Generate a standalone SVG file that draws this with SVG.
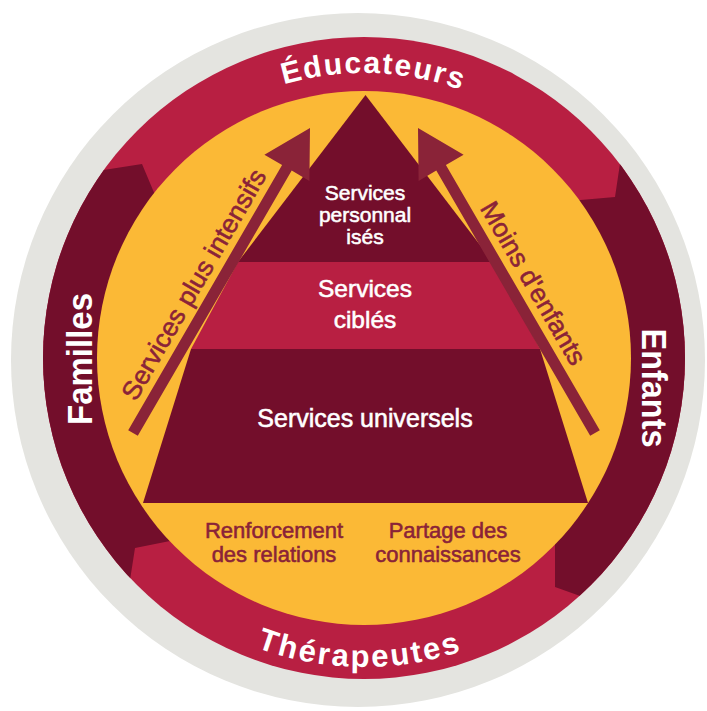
<svg xmlns="http://www.w3.org/2000/svg" width="707" height="711" viewBox="0 0 707 711">
  <style>
    .crimson { fill: #B81F42; }
    .dark { fill: #730E2B; }
    .gold { fill: #FBB936; }
    .arrow { fill: #8A2338; }
    .ring-label { font-family: "Liberation Sans", Arial, sans-serif; font-weight: bold; fill: #FFFFFF; }
    .tier { font-family: "Liberation Sans", Arial, sans-serif; fill: #FFFFFF; stroke: #FFFFFF; stroke-width: 0.55; text-anchor: middle; }
    .note { font-family: "Liberation Sans", Arial, sans-serif; fill: #8A2338; stroke: #8A2338; stroke-width: 0.55; }
  </style>
  <defs>
    <clipPath id="ringClip">
      <circle cx="364" cy="358" r="321"/>
    </clipPath>
    <path id="topArc" d="M145.7,174.8 A285,285 0 0 1 582.3,174.8"/>
    <path id="bottomArc" d="M127.3,556.6 A309,309 0 0 0 600.7,556.6"/>
  </defs>

  <!-- outer grey rim -->
  <circle id="rim" cx="358" cy="360" r="347" fill="#E4E4E0"/>

  <!-- cycle ring: four block-arrow segments -->
  <g id="cycle-ring">
    <circle class="crimson" cx="364" cy="358" r="321"/>
    <g clip-path="url(#ringClip)">
      <polygon id="segment-enfants" class="dark" points="575,200.5 615,197 625,130 720,130 720,640 620,610 583,597 555,587 555,535 450,360"/>
      <polygon id="segment-familles" class="dark" points="158,202 142,164 40,180 -10,180 -10,640 125,640 125,612 130,580 135,548 175,540 280,360"/>
    </g>
  </g>

  <!-- inner field -->
  <circle id="field" class="gold" cx="364" cy="358" r="267"/>

  <!-- pyramid tiers -->
  <g id="tier-universal">
    <polygon class="dark" points="143,503 588,503 540,349 191,349"/>
    <text class="tier" x="365" y="427" font-size="25">Services universels</text>
  </g>
  <g id="tier-targeted">
    <polygon class="crimson" points="191,349 540,349 493,262 238,262"/>
    <text class="tier" x="365" y="297" font-size="24.5">Services</text>
    <text class="tier" x="365" y="328" font-size="24.5">ciblés</text>
  </g>
  <g id="tier-personal">
    <polygon class="dark" points="238,262 493,262 365.5,95"/>
    <text class="tier" x="365" y="200" font-size="21">Services</text>
    <text class="tier" x="365" y="222" font-size="21">personnal</text>
    <text class="tier" x="365" y="244" font-size="21">isés</text>
  </g>

  <!-- side arrows -->
  <g id="connectors">
    <polygon id="arrow-left" class="arrow" points="310,128 309.4,180.9 291.7,170.6 137.8,435.8 128.2,430.2 282.1,165 264.4,154.8"/>
    <polygon id="arrow-right" class="arrow" points="418,128 418.6,180.9 436.3,170.6 590.2,435.8 599.8,430.2 445.9,165 463.6,154.8"/>
  </g>

  <g id="arrow-labels">
    <text class="note" font-size="26" transform="translate(135.8,402.3) rotate(-59.9)" textLength="262" lengthAdjust="spacingAndGlyphs">Services plus intensifs</text>
    <text class="note" font-size="26" transform="translate(479.5,208) rotate(59.9)" textLength="184" lengthAdjust="spacingAndGlyphs">Moins d'enfants</text>
  </g>

  <g id="base-notes">
    <text class="note" font-size="22" text-anchor="middle" x="274" y="538">Renforcement</text>
    <text class="note" font-size="22" text-anchor="middle" x="274" y="562">des relations</text>
    <text class="note" font-size="22" text-anchor="middle" x="448" y="538">Partage des</text>
    <text class="note" font-size="22" text-anchor="middle" x="448" y="562">connaissances</text>
  </g>

  <!-- ring labels -->
  <g id="label-educateurs">
    <text class="ring-label" font-size="30" letter-spacing="1.8" text-anchor="middle"><textPath href="#topArc" startOffset="258">Éducateurs</textPath></text>
  </g>
  <g id="label-therapeutes">
    <text class="ring-label" font-size="31" letter-spacing="2.4" text-anchor="middle"><textPath href="#bottomArc" startOffset="265">Thérapeutes</textPath></text>
  </g>
  <g id="label-familles">
    <text class="ring-label" font-size="35" text-anchor="middle" transform="translate(92,359) rotate(-90)" textLength="132" lengthAdjust="spacingAndGlyphs">Familles</text>
  </g>
  <g id="label-enfants">
    <text class="ring-label" font-size="35" text-anchor="middle" transform="translate(642,388) rotate(90)" textLength="119" lengthAdjust="spacingAndGlyphs">Enfants</text>
  </g>
</svg>
